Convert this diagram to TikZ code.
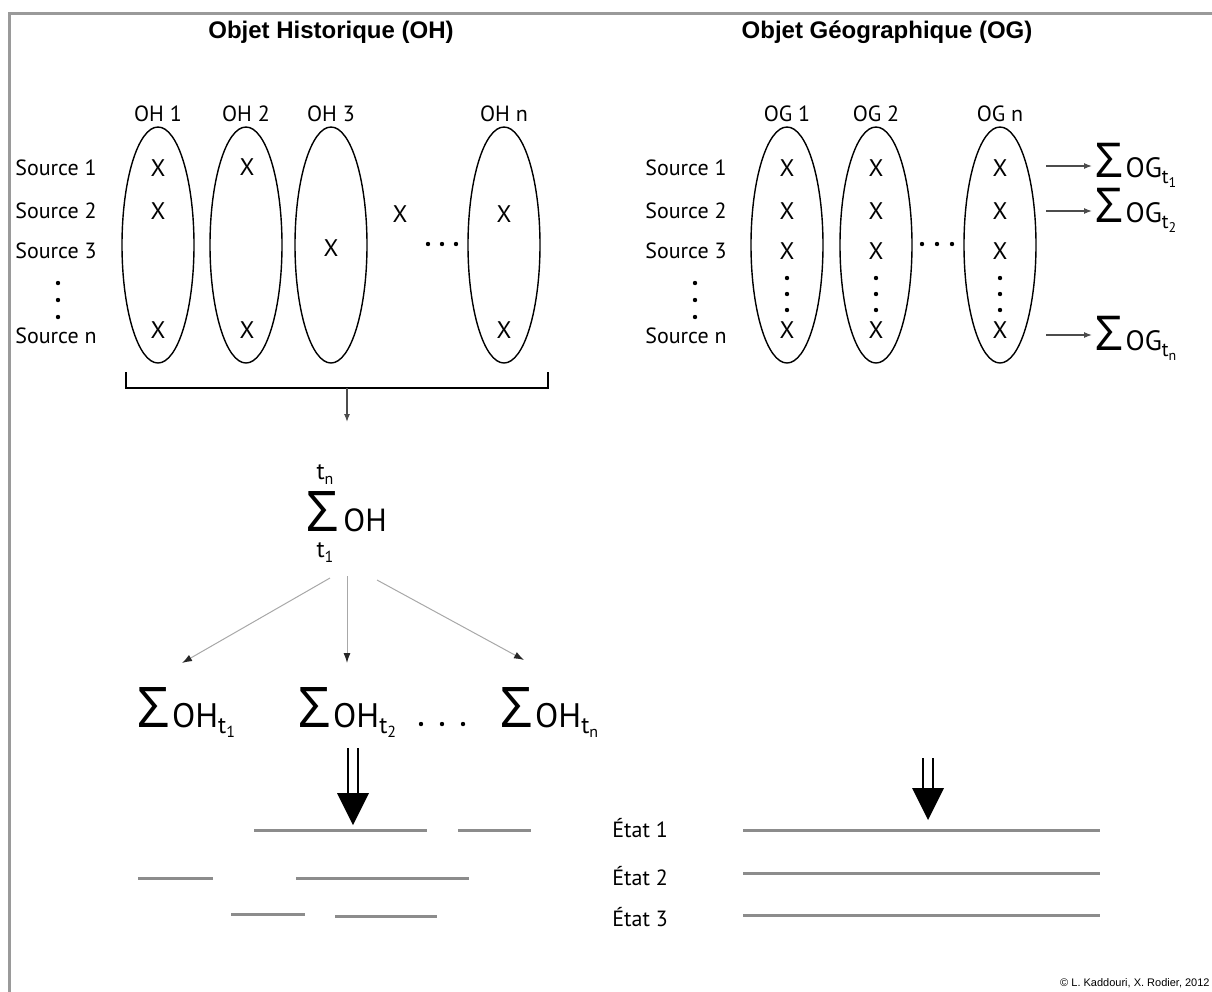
\documentclass[tikz,border=0pt]{standalone}
\usepackage{fontspec}
\setmainfont{PT Sans}
\newfontfamily\titlefont{Liberation Sans}
\newfontfamily\sigfont{Open Sans}
\usepackage{tikz}
\usetikzlibrary{arrows.meta,positioning,shapes.geometric,calc}
\definecolor{framegray}{HTML}{9A9A9A}
\definecolor{linegray}{HTML}{8C8C8C}
\definecolor{arrowgray}{HTML}{A8A8A8}

% t with a small index
\newcommand{\tsub}[3]{{\fontsize{#1}{#1}\selectfont t\raisebox{-0.2em}{\fontsize{#2}{#2}\selectfont #3}}}
% sigma size, t size, index size, text, index
\newcommand{\sumt}[5]{{\sigfont\fontsize{#1}{#1}\selectfont Σ}\kern1.5pt#4\raisebox{-3pt}{\tsub{#2}{#3}{#5}}}

\begin{document}
\begin{tikzpicture}[x=0.5pt, y=-0.5pt,
  titre/.style={font=\titlefont\bfseries\fontsize{12}{14}\selectfont},
  src/.style={font=\fontsize{11}{13}\selectfont, anchor=west, inner sep=0pt},
  lbl/.style={font=\fontsize{11}{13}\selectfont, inner sep=1pt},
  oval/.style={draw, ellipse, line width=0.7pt, minimum width=36pt,
               minimum height=118pt, inner sep=0pt},
  xmark/.style={font=\fontsize{12}{14}\selectfont, inner sep=0pt},
  ohsum/.style={font=\fontsize{17}{20}\selectfont, inner sep=0pt, anchor=base west},
  ogsum/.style={font=\fontsize{14}{17}\selectfont, inner sep=0pt, anchor=base west},
  arr/.style={-{Latex[length=5pt,width=3.5pt,color=black!85]}, draw=arrowgray, line width=0.5pt},
  darr/.style={-{Latex[length=4pt,width=3pt]}, draw=black!70, line width=0.6pt},
  bar/.style={draw=linegray, line width=1.5pt},
  twin/.style={line width=1.1pt},
  etat/.style={font=\fontsize{11}{13}\selectfont, anchor=west, inner sep=0pt}
]
  \useasboundingbox (0,0) rectangle (1212,992);
  % frame
  \draw[framegray, line width=1.5pt] (9,992) -- (9,13) -- (1212,13);

  % titles
  \node[titre] (tOH) at (331,32) {Objet Historique (OH)};
  \node[titre] (tOG) at (887,32) {Objet Géographique (OG)};

  % sources
  \foreach \s/\xx in {l/15, r/645} {
    \node[src] (\s1) at (\xx,168) {Source 1};
    \node[src] (\s2) at (\xx,211) {Source 2};
    \node[src] (\s3) at (\xx,251) {Source 3};
    \node[src] (\s n) at (\xx,336) {Source n};
  }
  \foreach \y in {283,300,317} {
    \fill (58,\y) circle (2.2);
    \fill (695,\y) circle (2.2);
  }

  % historical objects
  \foreach \n/\x/\t in {oh1/158/OH 1, oh2/246/OH 2, oh3/331/OH 3, ohn/504/OH n} {
    \node[oval] (\n) at (\x,245) {};
    \node[lbl, above=1pt of \n] (\n-lbl) {\t};
  }
  \foreach \x/\y [count=\i] in {158/168, 158/211, 158/330, 247/167, 247/330,
                                 331/248, 400/214, 504/214, 504/330}
    \node[xmark] (hx\i) at (\x,\y) {X};
  \foreach \x in {428,442,456} \fill (\x,244) circle (2.2);

  % geographical objects
  \foreach \n/\x/\t in {og1/787/OG 1, og2/876/OG 2, ogn/1000/OG n} {
    \node[oval] (\n) at (\x,245) {};
    \node[lbl, above=1pt of \n] (\n-lbl) {\t};
    \foreach \y [count=\j] in {168,211,251,330}
      \node[xmark] (\n-x\j) at (\x,\y) {X};
    \foreach \y in {278,294,310} \fill (\x,\y) circle (2.2);
  }
  \foreach \x in {922,937,952} \fill (\x,244) circle (2.2);

  % sums per time slice
  \foreach \y/\b/\k [count=\i] in {166/177/1, 211/222/2, 335/350/n} {
    \coordinate (ga\i) at (1046,\y);
    \node[ogsum] (sog\i) at (1095,\b) {\sumt{24}{10}{7}{OG}{\k}};
    \draw[darr] (ga\i) -- (1092,\y);
  }

  % bracket
  \coordinate (b1) at (126,372);
  \coordinate (b2) at (548,372);
  \coordinate (bm) at (347,388);
  \draw[line width=0.7pt] (b1) |- (bm) -| (b2);
  \node[inner sep=0pt, anchor=base] (sg) at (322,531) {\sigfont\fontsize{28}{30}\selectfont Σ};
  \node[ohsum, font=\fontsize{16}{18}\selectfont] (sOH) at (343,531) {OH};
  \node[inner sep=0pt, anchor=south] (tn) at ($(sg.north)+(3,-6)$) {\tsub{12}{8}{n}};
  \node[inner sep=0pt, anchor=north] (t1) at ($(sg.south)+(3,11)$) {\tsub{12}{8}{1}};
  \draw[darr] (bm) -- (347,422);

  % splitting
  \node[ohsum] (soh1) at (137,727) {\sumt{28}{12}{8}{OH}{1}};
  \node[ohsum] (soh2) at (298,727) {\sumt{28}{12}{8}{OH}{2}};
  \node[ohsum] (sohn) at (500,727) {\sumt{28}{12}{8}{OH}{n}};
  \foreach \x in {421,442,463} \fill (\x,724) circle (2.2);
  \coordinate (f1) at (330,578);
  \coordinate (f2) at (347,576);
  \coordinate (f3) at (377,580);
  \draw[arr] (f1) -- (182,663);
  \draw[arr] (f2) -- (347,663);
  \draw[arr] (f3) -- (524,660);

  % double arrows
  \coordinate (dl) at (353,748);
  \coordinate (dlt) at (353,825);
  \coordinate (dr) at (928,758);
  \coordinate (drt) at (928,820);
  \foreach \a/\b in {dl/dlt, dr/drt} {
    \draw[twin] ($(\a)+(-5,0)$) -- ($(\b)+(-5,-30)$)
                ($(\a)+(5,0)$) -- ($(\b)+(5,-30)$);
    \fill ($(\b)+(-16,-32)$) -- ($(\b)+(16,-32)$) -- (\b) -- cycle;
  }

  % states
  \draw[bar] (254,830) -- (427,830);
  \draw[bar] (458,830) -- (531,830);
  \draw[bar] (138,878) -- (213,878);
  \draw[bar] (296,878) -- (469,878);
  \draw[bar] (231,914) -- (305,914);
  \draw[bar] (335,916) -- (437,916);
  \node[etat] (e1) at (612,828) {État 1};
  \node[etat] (e2) at (612,876) {État 2};
  \node[etat] (e3) at (612,917) {État 3};
  \foreach \y in {830,873,915} \draw[bar] (743,\y) -- (1100,\y);

  \node[anchor=east, inner sep=0pt, font=\titlefont\fontsize{5.5}{6}\selectfont]
    (copy) at (1210,983) {© L. Kaddouri, X. Rodier, 2012};
\end{tikzpicture}
\end{document}
